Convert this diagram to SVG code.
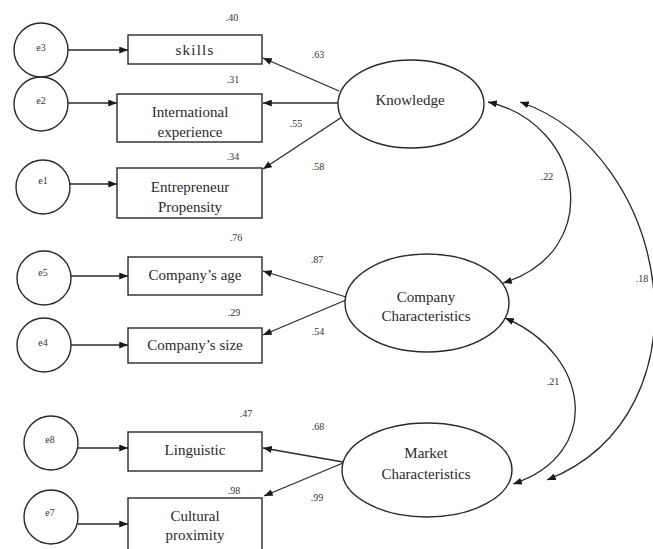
<svg xmlns="http://www.w3.org/2000/svg" width="653" height="549" viewBox="0 0 653 549">
<style>
.shape{fill:#fff;stroke:#2a2a2a;stroke-width:1.4}
.lbl{font-family:"Liberation Serif","Times New Roman",serif;font-size:15px;fill:#2a2a2a;text-anchor:middle}
.num{font-family:"Liberation Serif","Times New Roman",serif;font-size:10px;fill:#333;text-anchor:middle}
.err{font-family:"Liberation Serif","Times New Roman",serif;font-size:10px;fill:#333;text-anchor:middle}
.con{fill:none;stroke:#2a2a2a;stroke-width:1.3}
</style>
<defs>
<marker id="ah" viewBox="0 0 10 8" refX="10" refY="4" markerWidth="9" markerHeight="7" orient="auto-start-reverse" markerUnits="userSpaceOnUse">
<path d="M0,0 L10,4 L0,8 z" fill="#1a1a1a"/>
</marker>
</defs>
<rect width="653" height="549" fill="#fff"/>

<g id="connectors">
<path class="con" d="M68,50 H128" marker-end="url(#ah)"/>
<path class="con" d="M68,103 H117" marker-end="url(#ah)"/>
<path class="con" d="M70,184 H117" marker-end="url(#ah)"/>
<path class="con" d="M71,276 H128" marker-end="url(#ah)"/>
<path class="con" d="M71,345 H128" marker-end="url(#ah)"/>
<path class="con" d="M78,448 H128" marker-end="url(#ah)"/>
<path class="con" d="M78,524 H128" marker-end="url(#ah)"/>
<path class="con" d="M339,91 L263,58" marker-end="url(#ah)"/>
<path class="con" d="M338,103 L263,103" marker-end="url(#ah)"/>
<path class="con" d="M342,117 L263,169" marker-end="url(#ah)"/>
<path class="con" d="M346,297 L263,271" marker-end="url(#ah)"/>
<path class="con" d="M346,300 L263,335" marker-end="url(#ah)"/>
<path class="con" d="M343,462 L263,448" marker-end="url(#ah)"/>
<path class="con" d="M343,463 L264,496" marker-end="url(#ah)"/>
<path class="con" d="M488,102 C585,124 605,252 503,283" marker-start="url(#ah)" marker-end="url(#ah)"/>
<path class="con" d="M505,318 C590,354 604,454 513,484" marker-start="url(#ah)" marker-end="url(#ah)"/>
<path class="con" d="M520,102 C670,153 716,413 547,480" marker-start="url(#ah)" marker-end="url(#ah)"/>
<text class="num" x="547" y="180">.22</text>
<text class="num" x="553" y="385">.21</text>
<text class="num" x="642" y="282">.18</text>
<text class="num" x="318" y="58">.63</text>
<text class="num" x="296" y="127">.55</text>
<text class="num" x="318" y="170">.58</text>
<text class="num" x="317" y="263">.87</text>
<text class="num" x="318" y="335">.54</text>
<text class="num" x="318" y="430">.68</text>
<text class="num" x="317" y="501">.99</text>
</g>

<g id="e3"><circle class="shape" cx="41" cy="50" r="27"/><text class="err" x="41" y="51">e3</text></g>
<g id="e2"><circle class="shape" cx="41" cy="104" r="27"/><text class="err" x="41" y="104">e2</text></g>
<g id="e1"><circle class="shape" cx="43" cy="187" r="27"/><text class="err" x="43" y="184">e1</text></g>
<g id="e5"><circle class="shape" cx="44" cy="278" r="27"/><text class="err" x="43" y="276">e5</text></g>
<g id="e4"><circle class="shape" cx="44" cy="345" r="27"/><text class="err" x="43" y="346">e4</text></g>
<g id="e8"><circle class="shape" cx="51" cy="443" r="27"/><text class="err" x="50" y="443">e8</text></g>
<g id="e7"><circle class="shape" cx="51" cy="517" r="27"/><text class="err" x="50" y="516">e7</text></g>

<g id="skills"><rect class="shape" x="128" y="35" width="134" height="29"/><text class="lbl" x="195" y="55" letter-spacing="1.2">skills</text><text class="num" x="232" y="21">.40</text></g>
<g id="international-experience"><rect class="shape" x="117" y="94" width="145" height="48"/><text class="lbl" x="190" y="117">International</text><text class="lbl" x="190" y="137">experience</text><text class="num" x="233" y="83">.31</text></g>
<g id="entrepreneur-propensity"><rect class="shape" x="117" y="168" width="145" height="50"/><text class="lbl" x="190" y="192">Entrepreneur</text><text class="lbl" x="190" y="212">Propensity</text><text class="num" x="233" y="160">.34</text></g>
<g id="company-age"><rect class="shape" x="128" y="257" width="134" height="38"/><text class="lbl" x="195" y="280">Company’s age</text><text class="num" x="236" y="241">.76</text></g>
<g id="company-size"><rect class="shape" x="128" y="328" width="134" height="35"/><text class="lbl" x="195" y="350">Company’s size</text><text class="num" x="234" y="316">.29</text></g>
<g id="linguistic"><rect class="shape" x="128" y="432" width="134" height="39"/><text class="lbl" x="195" y="455">Linguistic</text><text class="num" x="246" y="417">.47</text></g>
<g id="cultural-proximity"><rect class="shape" x="128" y="498" width="134" height="60"/><text class="lbl" x="195" y="521">Cultural</text><text class="lbl" x="195" y="540">proximity</text><text class="num" x="234" y="494">.98</text></g>

<g id="knowledge"><ellipse class="shape" cx="411" cy="104" rx="73" ry="44"/><text class="lbl" x="410" y="105">Knowledge</text></g>
<g id="company-characteristics"><ellipse class="shape" cx="427" cy="303" rx="82" ry="49"/><text class="lbl" x="426" y="302">Company</text><text class="lbl" x="426" y="321">Characteristics</text></g>
<g id="market-characteristics"><ellipse class="shape" cx="427" cy="470" rx="85" ry="47"/><text class="lbl" x="426" y="458">Market</text><text class="lbl" x="426" y="479">Characteristics</text></g>
</svg>
